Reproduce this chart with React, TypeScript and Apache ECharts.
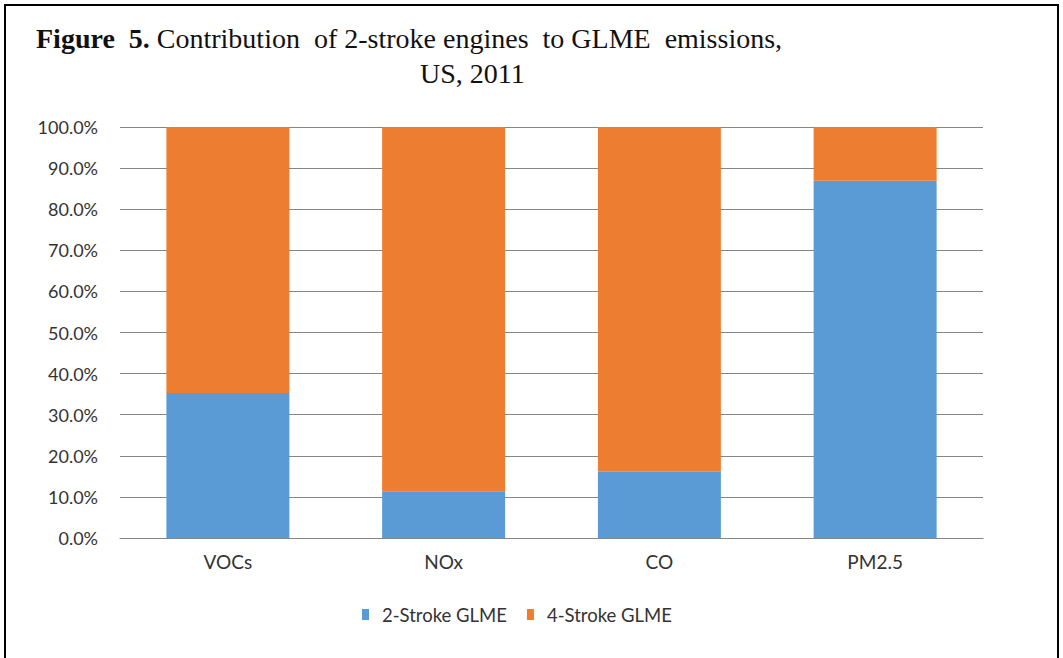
import React, { useEffect, useRef } from "react";
import * as echarts from "echarts";

// Pollutant categories along the x axis
const categories = ["VOCs", "NOx", "CO", "PM2.5"];
// Share of GLME emissions (%) by engine type
const twoStroke = [35.3, 11.4, 16.1, 86.9];
const fourStroke = [64.7, 88.6, 83.9, 13.1];
const seriesNames = ["2-Stroke GLME", "4-Stroke GLME"];

const BLUE = "#5B9BD5";
const ORANGE = "#ED7D31";
const LABEL_FONT = "Lato, 'Noto Sans', sans-serif";
const TITLE_FONT = "'Liberation Serif', 'Times New Roman', serif";

export default function App() {
  const ref = useRef<HTMLDivElement>(null);

  useEffect(() => {
    document.body.style.margin = "0";
    if (!ref.current) return;
    const chart = echarts.init(ref.current, undefined, { renderer: "svg" });
    chart.setOption({
      animation: false,
      backgroundColor: "#ffffff",
      graphic: [
        {
          type: "polyline",
          shape: { points: [[5, 700], [5, 5], [1058, 5], [1058, 700]] },
          style: { fill: "none", stroke: "#000", lineWidth: 2 },
          silent: true,
        },
        {
          type: "text",
          x: 36,
          y: 24,
          style: {
            text: "{b|Figure  5.} Contribution  of 2-stroke engines  to GLME  emissions,",
            font: "28px " + TITLE_FONT,
            fill: "#111",
            verticalAlign: "top",
            rich: {
              b: { font: "bold 28px " + TITLE_FONT, fill: "#111" },
            },
          },
        },
        {
          type: "text",
          x: 420,
          y: 59,
          style: {
            text: "US, 2011",
            font: "28px " + TITLE_FONT,
            fill: "#111",
            verticalAlign: "top",
          },
        },
      ],
      legend: {
        top: 600,
        left: 357,
        itemWidth: 7,
        itemHeight: 11,
        itemGap: 20,
        icon: "rect",
        textStyle: {
          fontFamily: LABEL_FONT,
          fontSize: 18.5,
          color: "#333",
          padding: [0, 0, 0, 8],
        },
        data: seriesNames,
      },
      grid: { left: 120, right: 80, top: 127, bottom: 120, containLabel: false },
      xAxis: {
        type: "category",
        data: categories,
        axisLine: { lineStyle: { color: "#868686", width: 1 } },
        axisTick: { show: false },
        axisLabel: { fontFamily: LABEL_FONT, fontSize: 19, color: "#333", margin: 14 },
      },
      yAxis: {
        type: "value",
        min: 0,
        max: 100,
        interval: 10,
        axisLine: { show: false },
        axisTick: { show: false },
        splitLine: { lineStyle: { color: "#868686", width: 1 } },
        axisLabel: {
          fontFamily: LABEL_FONT,
          fontSize: 18,
          color: "#333",
          margin: 22,
          formatter: (v: number) => v.toFixed(1) + "%",
        },
      },
      series: [
        {
          name: seriesNames[0],
          type: "bar",
          stack: "total",
          barWidth: "57%",
          itemStyle: { color: BLUE },
          data: twoStroke,
        },
        {
          name: seriesNames[1],
          type: "bar",
          stack: "total",
          barWidth: "57%",
          itemStyle: { color: ORANGE },
          data: fourStroke,
        },
      ],
    });
    return () => chart.dispose();
  }, []);

  return <div ref={ref} style={{ width: 1063, height: 658 }} />;
}
